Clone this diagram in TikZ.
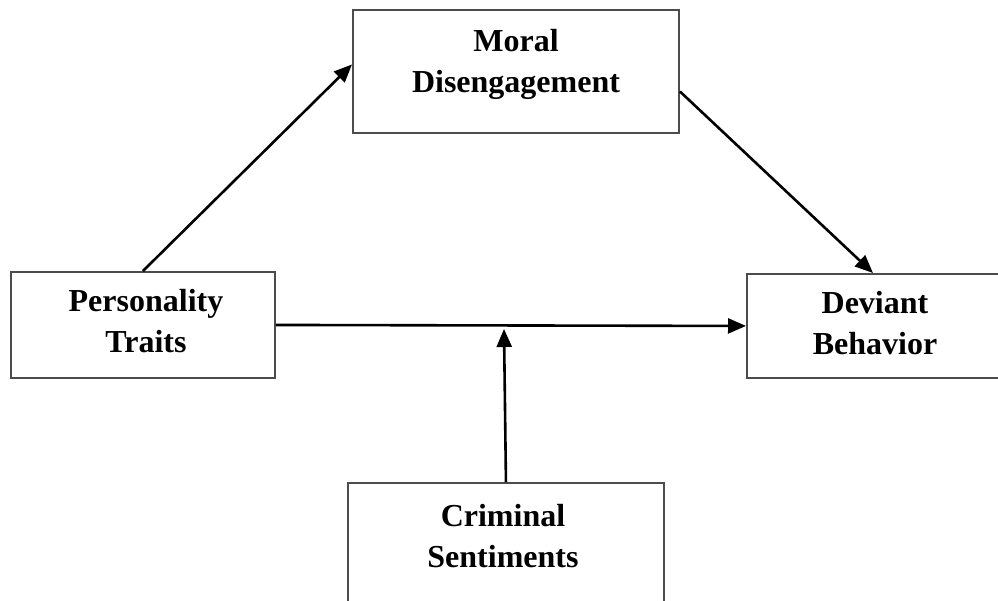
\documentclass[tikz,border=0pt]{standalone}
\usepackage{fontspec}
\setmainfont{Liberation Serif}
\usetikzlibrary{arrows.meta}
\begin{document}
\begin{tikzpicture}[x=1pt,y=-1pt,
  box/.style={draw=black!70,line width=1.9pt,rectangle,inner sep=0pt,anchor=north west},
  lbl/.style={align=center,anchor=base,font=\fontsize{32}{41}\selectfont\bfseries},
  link/.style={line width=2.6pt,-{Triangle[length=18pt,width=15pt]}}]
\clip (0,0) rectangle (998,600);
% boxes
\node[box,minimum width=326pt,minimum height=123pt] (moral) at (352,9) {};
\node[box,minimum width=264pt,minimum height=106pt] (pers) at (10,271) {};
\node[box,minimum width=264pt,minimum height=104pt] (dev) at (746,273) {};
\node[box,minimum width=316pt,minimum height=140pt] (crim) at (347,482) {};
% labels (anchored at the baseline of the second line)
\node[lbl] (tmoral) at (516,92) {Moral\\Disengagement};
\node[lbl] (tpers) at (146,352) {Personality\\Traits};
\node[lbl] (tdev) at (875,354) {Deviant\\Behavior};
\node[lbl] (tcrim) at (503,567) {Criminal\\Sentiments};
% connectors
\coordinate (join) at (504,329);
\draw[link] (pers.north) -- ([yshift=7pt]moral.west);
\draw[link] ([yshift=-20pt]moral.east) -- ([xshift=-6pt]dev.north);
\draw[link] (pers.east) -- (dev.west);
\draw[link] (crim.north) -- (join);
\end{tikzpicture}
\end{document}
